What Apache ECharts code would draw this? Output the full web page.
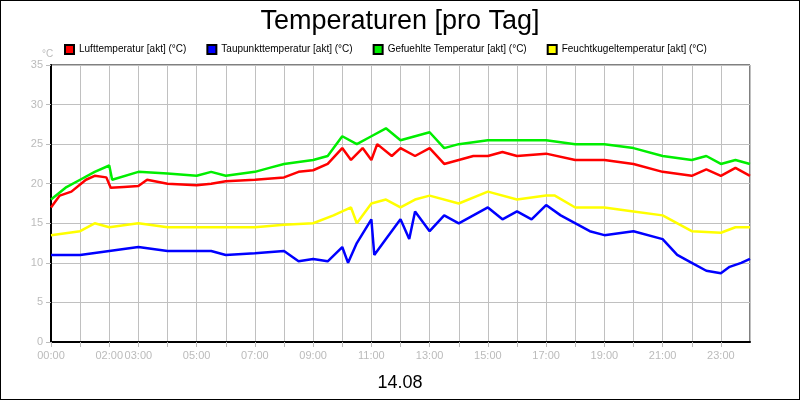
<!DOCTYPE html>
<html><head><meta charset="utf-8">
<script src="https://cdn.jsdelivr.net/npm/echarts@6/dist/echarts.min.js"></script>
<style>body{margin:0}#main{width:798px;height:398px;border:1px solid #000}</style>
</head><body><div id="main"></div>
<script>
// [Stunde, Wert]
var luft = [[0,17],[0.3,18.5],[0.7,19],[1.2,20.5],[1.5,21],[1.9,20.8],[2.05,19.5],[2.5,19.6],[3,19.7],[3.3,20.5],[4,20],[5,19.8],[5.5,20],[6,20.3],[7,20.5],[8,20.8],[8.5,21.5],[9,21.7],[9.5,22.5],[10,24.5],[10.3,23],[10.7,24.5],[11,23],[11.2,25],[11.7,23.5],[12,24.5],[12.5,23.5],[13,24.5],[13.5,22.5],[14,23],[14.5,23.5],[15,23.5],[15.5,24],[16,23.5],[17,23.8],[18,23],[19,23],[20,22.5],[21,21.5],[22,21],[22.5,21.8],[23,21],[23.5,22],[24,21]];
var taupunkt = [[0,11],[1,11],[2,11.5],[3,12],[4,11.5],[5.5,11.5],[6,11],[7,11.2],[8,11.5],[8.5,10.2],[9,10.5],[9.5,10.2],[10,12],[10.2,10],[10.5,12.5],[11,15.5],[11.1,11],[11.5,13],[12,15.5],[12.3,13],[12.5,16.5],[13,14],[13.5,16],[14,15],[15,17],[15.5,15.5],[16,16.5],[16.5,15.5],[17,17.3],[17.5,16],[18.5,14],[19,13.5],[20,14],[21,13],[21.5,11],[22,10],[22.5,9],[23,8.7],[23.3,9.5],[23.7,10],[24,10.5]];
var gefuehlt = [[0,18],[0.5,19.5],[1,20.5],[1.5,21.5],[2,22.3],[2.1,20.5],[3,21.5],[4,21.3],[5,21],[5.5,21.5],[6,21],[7,21.5],[7.5,22],[8,22.5],[9,23],[9.5,23.5],[10,26],[10.5,25],[11,26],[11.5,27],[12,25.5],[13,26.5],[13.5,24.5],[14,25],[15,25.5],[16,25.5],[17,25.5],[18,25],[19,25],[20,24.5],[21,23.5],[22,23],[22.5,23.5],[23,22.5],[23.5,23],[24,22.5]];
var feucht = [[0,13.5],[1,14],[1.5,15],[2,14.5],[3,15],[4,14.5],[6,14.5],[7,14.5],[8,14.8],[9,15],[9.7,16],[10.3,17],[10.5,15],[11,17.5],[11.5,18],[12,17],[12.5,18],[13,18.5],[14,17.5],[15,19],[16,18],[17,18.5],[17.3,18.5],[18,17],[19,17],[20,16.5],[21,16],[22,14],[23,13.8],[23.5,14.5],[24,14.5]];
var xLabels = [0,2,3,5,7,9,11,13,15,17,19,21,23];

var myChart = echarts.init(document.getElementById('main'));
function s(name, data, color) {
    return {name: name, type: 'line', data: data, symbol: 'none', lineStyle: {width: 2.5, color: color}, itemStyle: {color: color, borderColor: '#000', borderWidth: 1}};
}
myChart.setOption({
    animation: false,
    title: [
        {text: 'Temperaturen [pro Tag]', left: 'center', top: 2, textStyle: {fontSize: 27, fontWeight: 'normal', color: '#000', fontFamily: 'Liberation Sans'}},
        {text: '14.08', left: 'center', top: 368, textStyle: {fontSize: 18, fontWeight: 'normal', color: '#000', fontFamily: 'Liberation Sans'}},
        {text: '°C', left: 36, top: 43, textStyle: {fontSize: 10, fontWeight: 'normal', color: '#bbb'}}
    ],
    legend: {top: 38, left: 58, itemWidth: 9, itemHeight: 9, itemGap: 20, icon: 'rect',
        textStyle: {fontSize: 10, color: '#000', fontFamily: 'Liberation Sans'}},
    grid: {left: 50, right: 49, top: 64, bottom: 57, show: true, borderColor: '#000', borderWidth: 1},
    xAxis: {type: 'value', min: 0, max: 24, interval: 1,
        axisLine: {lineStyle: {color: '#000', width: 2}},
        axisTick: {lineStyle: {color: '#bbb'}},
        splitLine: {show: true, lineStyle: {color: '#c0c0c0'}},
        axisLabel: {color: '#bbb', fontSize: 11, showMaxLabel: false, formatter: function (v) {
            return xLabels.indexOf(v) >= 0 ? (v < 10 ? '0' : '') + v + ':00' : '';
        }}},
    yAxis: {type: 'value', min: 0, max: 35, interval: 5,
        axisLine: {show: true, lineStyle: {color: '#000', width: 2}},
        axisTick: {show: true, lineStyle: {color: '#bbb'}},
        splitLine: {lineStyle: {color: '#c0c0c0'}},
        axisLabel: {color: '#bbb', fontSize: 11}},
    series: [
        s('Lufttemperatur [akt] (°C)', luft, '#ff0000'),
        s('Taupunkttemperatur [akt] (°C)', taupunkt, '#0000ff'),
        s('Gefuehlte Temperatur [akt] (°C)', gefuehlt, '#00ee00'),
        s('Feuchtkugeltemperatur [akt] (°C)', feucht, '#ffff00')
    ]
});
</script></body></html>
